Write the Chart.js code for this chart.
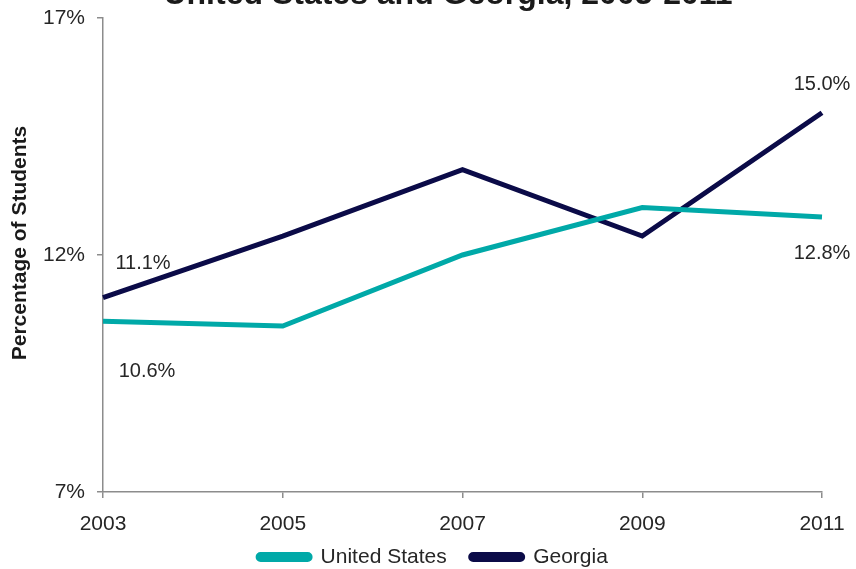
<!DOCTYPE html>
<html>
<head>
<meta charset="utf-8">
<script src="https://cdn.jsdelivr.net/npm/chart.js@4/dist/chart.umd.min.js"></script>
<style>
html,body{margin:0;padding:0;background:#fff;}
#wrap{position:relative;width:856px;height:569px;}
</style>
</head>
<body>
<div id="wrap"><canvas id="c" width="856" height="569"></canvas></div>
<script>
const chartTitle = "United States and Georgia, 2003-2011";
const yAxisTitle = "Percentage of Students";
const years = ["2003", "2005", "2007", "2009", "2011"];
const usValues = [10.6, 10.5, 12.0, 13.0, 12.8];
const gaValues = [11.1, 12.4, 13.8, 12.4, 15.0];
const seriesNames = ["United States", "Georgia"];
const yTicks = [7, 12, 17];
const labelled = [
  {ds: 1, idx: 0, text: "11.1%", dx: 40, dy: -34},
  {ds: 0, idx: 0, text: "10.6%", dx: 44, dy: 50},
  {ds: 1, idx: 4, text: "15.0%", dx: 0, dy: -28},
  {ds: 0, idx: 4, text: "12.8%", dx: 0, dy: 36}
];

const FONT = "'Liberation Sans', Arial, sans-serif";
const TEXT = "#262626";
const AXIS = "#8c8c8c";

const titlePlugin = {
  id: 'topTitle',
  afterLayout(chart) {
    const lg = chart.legend;
    if (lg) {
      lg.left += 22; lg.right += 22;
      const cy = lg.top + 24 + 10.5;
      const d = 557 - cy;
      lg.top += d; lg.bottom += d;
    }
  },
  afterDraw(chart) {
    const ctx = chart.ctx;
    ctx.save();
    ctx.font = "bold 32px " + FONT;
    ctx.fillStyle = "#1a1a1a";
    ctx.textAlign = "center";
    ctx.textBaseline = "alphabetic";
    ctx.fillText(chartTitle, 448, 4);
    ctx.restore();
    ctx.save();
    ctx.translate(20, 243);
    ctx.rotate(-Math.PI / 2);
    ctx.font = "bold 21px " + FONT;
    ctx.fillStyle = "#1a1a1a";
    ctx.textAlign = "center";
    ctx.textBaseline = "middle";
    ctx.fillText(yAxisTitle, 0, 0);
    ctx.restore();
  }
};

const labelPlugin = {
  id: 'pointLabels',
  afterDatasetsDraw(chart) {
    const ctx = chart.ctx;
    ctx.save();
    ctx.font = "20px " + FONT;
    ctx.fillStyle = TEXT;
    ctx.textAlign = "center";
    ctx.textBaseline = "middle";
    labelled.forEach(l => {
      const pt = chart.getDatasetMeta(l.ds).data[l.idx];
      ctx.fillText(l.text, pt.x + l.dx, pt.y + l.dy);
    });
    ctx.restore();
  }
};

new Chart(document.getElementById('c'), {
  type: 'line',
  data: {
    labels: years,
    datasets: [
      {label: seriesNames[0], data: usValues, borderColor: '#00a9a8', backgroundColor: '#00a9a8', borderWidth: 5, pointRadius: 0, tension: 0},
      {label: seriesNames[1], data: gaValues, borderColor: '#0b0b48', backgroundColor: '#0b0b48', borderWidth: 5, pointRadius: 0, tension: 0}
    ]
  },
  options: {
    responsive: false,
    animation: false,
    layout: {padding: {top: 18, right: 34, left: 0, bottom: -26}},
    plugins: {
      tooltip: {enabled: false},
      title: {display: false},
      legend: {
        position: 'bottom',
        labels: {
          font: {family: FONT, size: 21},
          color: TEXT,
          boxWidth: 52,
          boxHeight: 5,
          padding: 24,
          useBorderRadius: true,
          borderRadius: 2.5
        }
      }
    },
    scales: {
      x: {
        offset: false,
        grid: {display: true, drawOnChartArea: false, drawTicks: true, tickLength: 6, color: AXIS, lineWidth: 1.5},
        border: {display: true, color: AXIS, width: 1.5},
        ticks: {font: {family: FONT, size: 21}, color: TEXT, padding: 14, maxRotation: 0},
        afterFit(s) { s.height = 48; s.paddingLeft = 0; s.paddingRight = 0; }
      },
      y: {
        min: 7, max: 17,
        afterBuildTicks(s) { s.ticks = yTicks.map(v => ({value: v})); },
        grid: {display: true, drawOnChartArea: false, drawTicks: true, tickLength: 6, color: AXIS, lineWidth: 1.5},
        border: {display: true, color: AXIS, width: 1.5},
        ticks: {font: {family: FONT, size: 21}, color: TEXT, padding: 12, callback: v => v + '%'},
        title: {display: false},
        afterFit(s) { s.width = 103; s.paddingTop = 0; s.paddingBottom = 0; }
      }
    }
  },
  plugins: [titlePlugin, labelPlugin]
});
</script>
</body>
</html>
